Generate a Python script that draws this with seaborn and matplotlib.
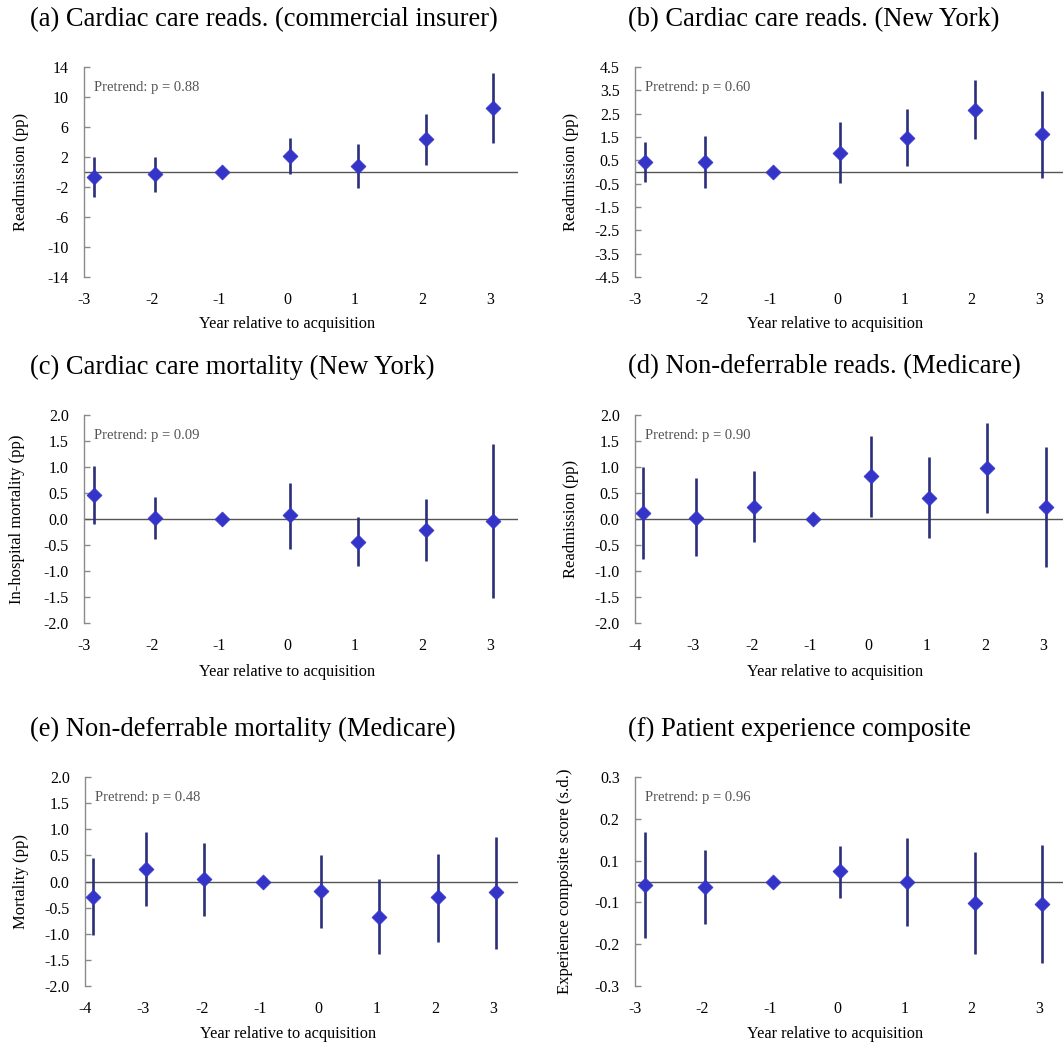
import numpy as np
import pandas as pd
import matplotlib
matplotlib.use("Agg")
import matplotlib.pyplot as plt
import seaborn as sns

sns.set_theme(style="white")
plt.rcParams["font.family"] = ["Liberation Serif", "DejaVu Serif"]

# ---------------- data ----------------
titles = [
    "(a) Cardiac care reads. (commercial insurer)",
    "(b) Cardiac care reads. (New York)",
    "(c) Cardiac care mortality (New York)",
    "(d) Non-deferrable reads. (Medicare)",
    "(e) Non-deferrable mortality (Medicare)",
    "(f) Patient experience composite",
]
ylabels = [
    "Readmission (pp)", "Readmission (pp)", "In-hospital mortality (pp)",
    "Readmission (pp)", "Mortality (pp)", "Experience composite score (s.d.)",
]
pretrend = ["Pretrend: p = 0.88", "Pretrend: p = 0.60", "Pretrend: p = 0.09",
            "Pretrend: p = 0.90", "Pretrend: p = 0.48", "Pretrend: p = 0.96"]

years7 = [-3, -2, -1, 0, 1, 2, 3]
years8 = [-4, -3, -2, -1, 0, 1, 2, 3]

a_est = [-0.71, -0.31, 0.0, 2.10, 0.85, 4.37, 8.52]
a_lo = [-3.39, -2.67, 0.0, -0.31, -2.14, 0.94, 3.83]
a_hi = [2.00, 2.00, 0.0, 4.55, 3.79, 7.80, 13.24]

b_est = [0.43, 0.43, 0.0, 0.83, 1.47, 2.67, 1.61]
b_lo = [-0.41, -0.67, 0.0, -0.46, 0.26, 1.41, -0.24]
b_hi = [1.29, 1.53, 0.0, 2.13, 2.70, 3.96, 3.49]

c_est = [0.46, 0.02, 0.0, 0.07, -0.44, -0.21, -0.04]
c_lo = [-0.09, -0.39, 0.0, -0.57, -0.91, -0.80, -1.51]
c_hi = [1.01, 0.43, 0.0, 0.70, 0.03, 0.39, 1.44]

d_est = [0.11, 0.02, 0.23, 0.0, 0.82, 0.41, 0.98, 0.23]
d_lo = [-0.76, -0.72, -0.45, 0.0, 0.04, -0.36, 0.11, -0.93]
d_hi = [1.00, 0.78, 0.92, 0.0, 1.60, 1.19, 1.85, 1.39]

e_est = [-0.30, 0.23, 0.04, 0.0, -0.19, -0.67, -0.30, -0.21]
e_lo = [-1.03, -0.47, -0.66, 0.0, -0.89, -1.38, -1.15, -1.29]
e_hi = [0.45, 0.95, 0.74, 0.0, 0.50, 0.04, 0.53, 0.86]

f_est = [-0.011, -0.017, 0.0, 0.029, -0.002, -0.061, -0.065]
f_lo = [-0.162, -0.122, 0.0, -0.048, -0.128, -0.209, -0.234]
f_hi = [0.142, 0.089, 0.0, 0.103, 0.124, 0.086, 0.106]

panels = [
    (years7, a_est, a_lo, a_hi),
    (years7, b_est, b_lo, b_hi),
    (years7, c_est, c_lo, c_hi),
    (years8, d_est, d_lo, d_hi),
    (years8, e_est, e_lo, e_hi),
    (years7, f_est, f_lo, f_hi),
]

yticks_list = [
    list(np.arange(-14, 15, 4)),
    list(np.arange(-4.5, 4.6, 1.0)),
    list(np.arange(-2.0, 2.01, 0.5)),
    list(np.arange(-2.0, 2.01, 0.5)),
    list(np.arange(-2.0, 2.01, 0.5)),
    list(-0.3 + 0.12 * np.arange(6)),
]
ytick_fmt = ["{:.0f}", "{:.1f}", "{:.1f}", "{:.1f}", "{:.1f}", "{:.1f}"]

# ---------------- layout (pixels) ----------------
W, H = 1063, 1046
# left, right, top, bottom, xmin, xmax
boxes = [
    (84, 518, 67, 277, -3, 3.41),
    (635, 1063, 67, 277, -3, 3.36),
    (84, 518, 415, 623, -3, 3.41),
    (635, 1063, 415, 623, -4, 3.34),
    (85, 518, 777, 986, -4, 3.42),
    (635, 1063, 777, 986, -3, 3.36),
]
title_pos = [(30, 20), (628, 20), (30, 367), (628, 367), (30, 729), (628, 729)]
ylab_off = [63, 64, 67, 64, 64, 70]
xlab_gap = [47, 47, 49, 49, 48, 48]

fig = plt.figure(figsize=(W / 100, H / 100), dpi=100)
fig.patch.set_facecolor("white")

err_color = "#2B2E78"
mk_color = "#3434C8"

for i, ((yrs, est, lo, hi), box) in enumerate(zip(panels, boxes)):
    l, r, t, b, xmin, xmax = box
    ax = fig.add_axes([l / W, 1 - b / H, (r - l) / W, (b - t) / H])
    # nudge: first point slightly further right, others slightly right
    xs = [y + (0.145 if k == 0 else 0.045) for k, y in enumerate(yrs)]
    df = pd.DataFrame({"x": xs, "est": est, "lo": lo, "hi": hi})
    yt = yticks_list[i]
    ax.axhline(0, color="#555555", lw=1.0, zorder=1)
    ax.vlines(df["x"], df["lo"], df["hi"], color=err_color, lw=1.9, zorder=2)
    sns.scatterplot(data=df, x="x", y="est", marker="D", s=58, color=mk_color,
                    edgecolor=mk_color, linewidth=0.5, zorder=3, ax=ax, legend=False)
    ax.set_xlim(xmin, xmax)
    ax.set_ylim(yt[0], yt[-1])
    ax.set_xticks(yrs)
    ax.set_xticklabels([str(y) for y in yrs])
    ax.set_yticks(yt)
    ax.set_yticklabels([ytick_fmt[i].format(v).replace("-0.0", "0.0") for v in yt])
    for s in ["top", "right", "bottom"]:
        ax.spines[s].set_visible(False)
    ax.spines["left"].set_color("#8a8a8a")
    ax.spines["left"].set_linewidth(1.0)
    ax.tick_params(axis="y", direction="in", length=4, width=1, color="#8a8a8a",
                   pad=11, labelsize=11.5, labelcolor="black", left=True)
    ax.tick_params(axis="x", length=0, pad=11, labelsize=11.5, labelcolor="black")
    ax.set_xlabel("Year relative to acquisition", fontsize=11.8, color="black")
    ax.xaxis.set_label_coords(0.468, -xlab_gap[i] / (b - t), transform=ax.transAxes)
    ax.xaxis.label.set_va("center")
    ax.set_ylabel(ylabels[i], fontsize=12, color="black")
    ax.yaxis.set_label_coords(-ylab_off[i] / (r - l), 0.5, transform=ax.transAxes)
    ax.yaxis.label.set_va("center")
    ax.text(10 / (r - l), 1 - 21 / (b - t), pretrend[i], transform=ax.transAxes,
            ha="left", va="center", fontsize=10.5, color="#555555")
    ax.set_facecolor("white")
    ax.grid(False)
    tx, ty = title_pos[i]
    fig.text(tx / W, 1 - ty / H, titles[i], ha="left", va="center", fontsize=19.1,
             color="black")

fig.savefig("out.png", dpi=100, facecolor="white")
